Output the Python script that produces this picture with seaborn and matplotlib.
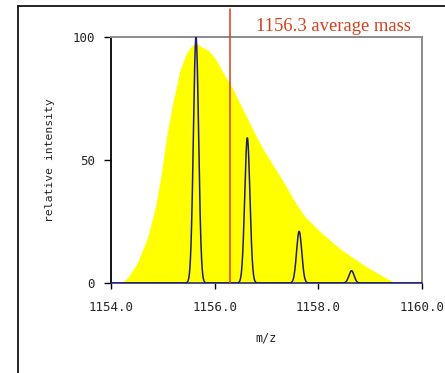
import numpy as np
import matplotlib
matplotlib.use("Agg")
import matplotlib.pyplot as plt
from matplotlib.lines import Line2D
import seaborn as sns

# Outline of the unresolved isotope envelope (m/z, relative intensity)
envelope_mz = [1154.21, 1154.33, 1154.50, 1154.71, 1154.87, 1154.98, 1155.07,
               1155.19, 1155.33, 1155.45, 1155.52, 1155.59, 1155.67, 1155.75,
               1155.88, 1156.02, 1156.14, 1156.33, 1156.49, 1156.65, 1156.81,
               1156.96, 1157.16, 1157.36, 1157.52, 1157.74, 1158.07, 1158.45,
               1158.93, 1159.32, 1159.48]
envelope_int = [0, 2.4, 7.8, 18.7, 32.2, 45.8, 59.3,
                72.9, 86.4, 93.2, 95.5, 97.0, 97.2, 95.9,
                94.6, 91.0, 86.4, 79.7, 72.9, 66.1, 59.3,
                53.5, 46.8, 40.0, 34.0, 27.0, 20.2, 13.4,
                6.6, 1.9, 0]

# Resolved isotope peaks
peak_mz = [1155.64, 1156.63, 1157.63, 1158.64]
peak_int = [100, 59, 21, 5]
peak_sigma = 0.05  # instrument peak width (m/z)

average_mass = 1156.3
mass_label = "1156.3 average mass"

x_ticks = [1154.0, 1156.0, 1158.0, 1160.0]
x_ticklabels = ["1154.0", "1156.0", "1158.0", "1160.0"]
y_ticks = [0, 50, 100]
y_ticklabels = ["0", "50", "100"]

# Profile spectrum: each centroid rendered with a Gaussian peak shape
mz_grid = np.linspace(x_ticks[0], x_ticks[-1], 2401)
profile = np.zeros_like(mz_grid)
for mz, h in zip(peak_mz, peak_int):
    profile += h * np.exp(-0.5 * ((mz_grid - mz) / peak_sigma) ** 2)

sns.set_theme(style="white")
plt.rcParams["font.family"] = ["DejaVu Sans"]
mono = "DejaVu Sans Mono"

W, H = 445, 373
fig = plt.figure(figsize=(W / 100, H / 100), dpi=100)
ax = fig.add_axes([111 / W, 1 - 283 / H, 311 / W, 246 / H])

ax.fill_between(envelope_mz, envelope_int, color="#FFFF00", lw=0, zorder=1)
sns.lineplot(x=mz_grid, y=profile, ax=ax, color="#1c1c7c", lw=1.1, zorder=3)

red = "#D8401C"
ax.axvline(average_mass, ymin=0, ymax=1 + 28 / 246, color=red, lw=1.1,
           clip_on=False, zorder=4)
ax.text(1156.80, 102.4, mass_label, color=red, family="Liberation Serif",
        fontsize=13.4, va="baseline", ha="left")

ax.set_xlim(x_ticks[0], x_ticks[-1])
ax.set_ylim(0, 100)
ax.set_xticks(x_ticks)
ax.set_xticklabels(x_ticklabels, family=mono, fontsize=9)
ax.set_yticks(y_ticks)
ax.set_yticklabels(y_ticklabels, family=mono, fontsize=9)
ax.tick_params(axis="x", bottom=True, direction="out", length=4, width=1,
               color="black", pad=9)
ax.tick_params(axis="y", left=True, direction="out", length=5, width=1,
               color="black", pad=6.5)

for side in ("top", "right"):
    ax.spines[side].set_color("#8c8c8c")
    ax.spines[side].set_linewidth(1.4)
ax.spines["left"].set_color("black")
ax.spines["left"].set_linewidth(1.3)
ax.spines["bottom"].set_color("#1c1c7c")
ax.spines["bottom"].set_linewidth(1.1)

ax.set_xlabel("m/z", family=mono, fontsize=8.5)
ax.xaxis.set_label_coords(0.5, -(338 - 283) / 246)
ax.xaxis.label.set_va("center")
ax.set_ylabel("relative intensity", family=mono, fontsize=8.2)
ax.yaxis.set_label_coords((50 - 111) / 311, 0.5)
ax.yaxis.label.set_va("center")

# Outer frame (left and top edges)
fx, fy = 18 / W, 1 - 6 / H
fig.add_artist(Line2D([fx, fx], [0, fy], transform=fig.transFigure,
                      color="black", lw=1.2))
fig.add_artist(Line2D([fx, 1], [fy, fy], transform=fig.transFigure,
                      color="black", lw=1.2))

fig.savefig("out.png", dpi=100)
